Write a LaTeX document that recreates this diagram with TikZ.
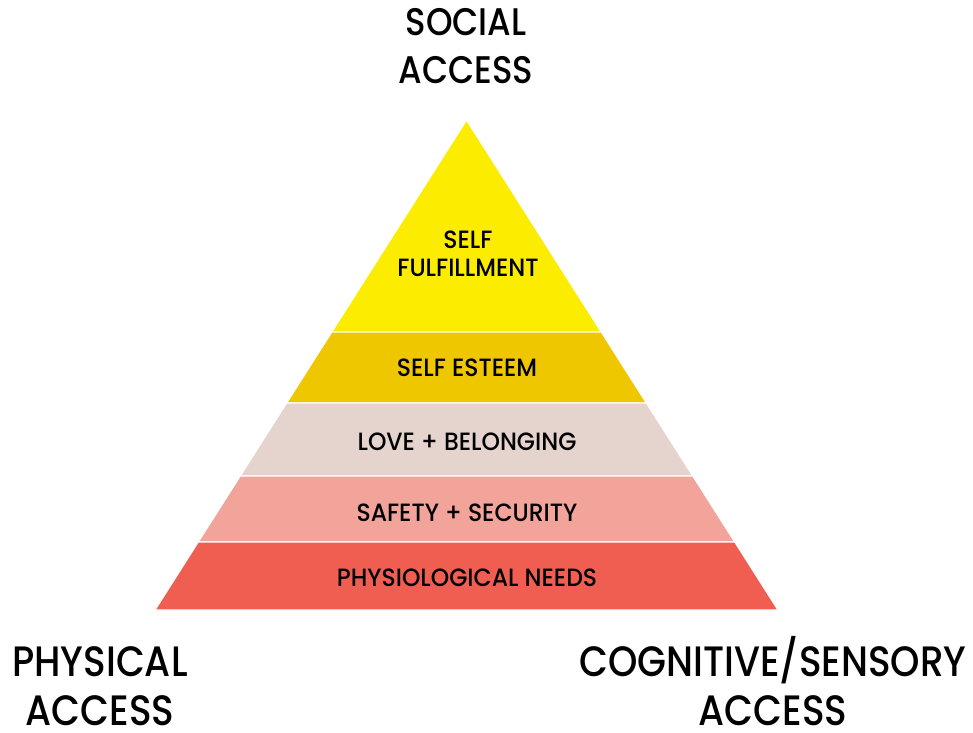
\documentclass[tikz,border=0pt]{standalone}
\usepackage{fontspec}
\setmainfont{Poppins}
\newfontfamily\accessfont{Poppins Medium}[FakeStretch=0.88]
\newfontfamily\levelfont{Poppins Medium}[FakeStretch=0.94]
\usetikzlibrary{calc}
\definecolor{fulfilyellow}{HTML}{FBEC00}
\definecolor{esteemgold}{HTML}{EFC700}
\definecolor{lovebeige}{HTML}{E5D3CD}
\definecolor{safetypink}{HTML}{F2A39A}
\definecolor{needsred}{HTML}{F05E52}
\begin{document}
\begin{tikzpicture}[x=1pt,y=-1pt]
            \tikzstyle{access label}=[align=center,font=\accessfont\fontsize{42.5}{49}\selectfont,inner sep=0]
            \tikzstyle{level label}=[align=center,font=\levelfont\fontsize{25}{28}\selectfont,inner sep=0]
            \tikzstyle{layer}=[draw=white,line width=1.2pt,line join=miter]

            \useasboundingbox (0,0) rectangle (973,732);
            \coordinate (apex) at (466.5,120);
            \coordinate (baseL) at (155,610);
            \coordinate (baseR) at (778,610);

            % pyramid layers, from the top down
            \foreach \ta/\tb/\col in {0/0.4327/fulfilyellow,0.4327/0.5776/esteemgold,
                0.5776/0.7265/lovebeige,0.7265/0.8612/safetypink,0.8612/1/needsred}
            {
                \filldraw[layer,fill=\col] ($(apex)!\ta!(baseL)$) -- ($(apex)!\tb!(baseL)$)
                    -- ($(apex)!\tb!(baseR)$) -- ($(apex)!\ta!(baseR)$) -- cycle;
            }

            \node(fulfil)[level label] at (468,254) {SELF\\FULFILLMENT};
            \node(esteem)[level label] at (467,368) {SELF ESTEEM};
            \node(love)[level label] at (467,442) {LOVE + BELONGING};
            \node(safety)[level label] at (467,513) {SAFETY + SECURITY};
            \node(needs)[level label] at (467,578) {PHYSIOLOGICAL NEEDS};

            \node(social)[access label,font=\accessfont\fontsize{38.5}{48}\selectfont] at (466,46.5) {SOCIAL\\ACCESS};
            \node(physical)[access label,anchor=south] at (100,726) {PHYSICAL\\ACCESS};
            \node(cognitive)[access label,anchor=south] at (773,726) {COGNITIVE/SENSORY\\ACCESS};
        \end{tikzpicture}
\end{document}
